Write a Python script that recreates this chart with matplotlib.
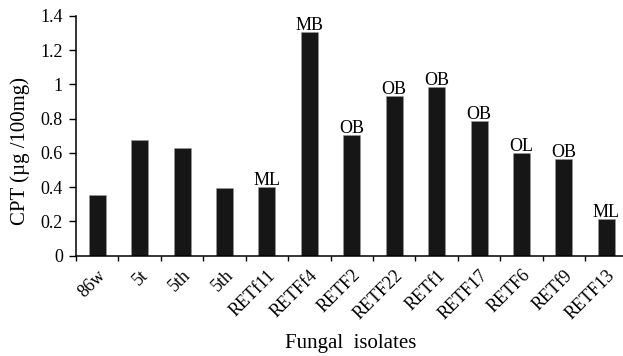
import matplotlib
matplotlib.use("Agg")
import matplotlib.pyplot as plt
import numpy as np

isolates = ["86w", "5t", "5th", "5th", "RETf11", "RETFf4", "RETF2", "RETF22",
            "RETf1", "RETF17", "RETF6", "RETf9", "RETF13"]
cpt = [0.355, 0.674, 0.629, 0.395, 0.40, 1.308, 0.703, 0.935,
       0.987, 0.785, 0.598, 0.563, 0.216]
labels = ["", "", "", "", "ML", "MB", "OB", "OB", "OB", "OB", "OL", "OB", "ML"]
yticks = [0, 0.2, 0.4, 0.6, 0.8, 1.0, 1.2, 1.4]
ytick_labels = ["0", "0.2", "0.4", "0.6", "0.8", "1", "1.2", "1.4"]

plt.rcParams["font.family"] = ["Liberation Serif", "DejaVu Serif"]

fig = plt.figure(figsize=(6.23, 3.56), dpi=100)
ax = fig.add_axes([76 / 623, 1 - 255.7 / 356, 551.5 / 623, 239.7 / 356])

x = np.arange(len(isolates))
ax.bar(x, cpt, width=0.4, color="#161616", edgecolor="#9a9a9a", linewidth=0.4)

for xi, v, lab in zip(x, cpt, labels):
    if lab:
        ax.annotate(lab, (xi, v), xytext=(0, 1.5), textcoords="offset points",
                    ha="center", va="baseline", fontsize=13)

ax.set_xlim(-0.5, len(isolates) - 0.5)
ax.set_ylim(0, 1.4)
ax.set_yticks(yticks)
ax.set_yticklabels(ytick_labels, fontsize=13)

# category boundaries carry the ticks; names sit at category centres
ax.set_xticks(np.arange(-0.5, len(isolates), 1.0))
ax.set_xticklabels([])
ax.set_xticks(x, minor=True)
ax.set_xticklabels(isolates, minor=True, rotation=45, ha="right",
                   rotation_mode="anchor", fontsize=13)
ax.tick_params(axis="x", which="minor", length=0, pad=8)
ax.tick_params(axis="x", which="major", length=3.6, width=1, direction="out")
ax.tick_params(axis="y", length=5, width=1, direction="out", pad=4.5)

for s in ["top", "right"]:
    ax.spines[s].set_visible(False)
for s in ["left", "bottom"]:
    ax.spines[s].set_linewidth(1.1)

ax.set_ylabel("CPT (\u00b5g /100mg)", fontsize=15)
ax.yaxis.set_label_coords(-0.0843, 0.435)
ax.set_xlabel("Fungal  isolates", fontsize=15)
ax.xaxis.set_label_coords(0.4977, -0.325)

fig.savefig("out.png", dpi=100)
